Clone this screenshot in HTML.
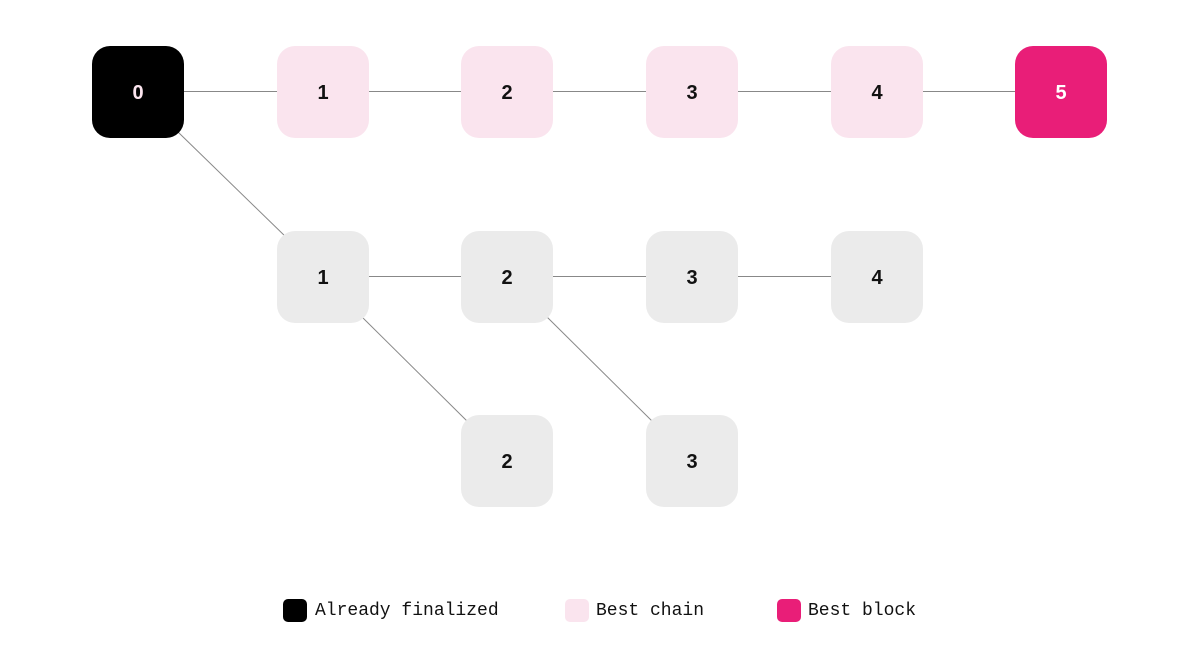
<!DOCTYPE html>
<html><head><style>
body{margin:0;width:1200px;height:646px;background:#fff;overflow:hidden;position:relative;font-family:"Liberation Sans",sans-serif}
svg{position:absolute;left:0;top:0}
.n{position:absolute;width:92px;height:92px;border-radius:18px;display:flex;align-items:center;justify-content:center;font-size:20px;font-weight:600;color:#111;background:#ebebeb;padding-top:2px;box-sizing:border-box}
.k{background:#000;color:#fbe4ee}.p{background:#fae4ee}.m{background:#e91e78;color:#fff}
.lg{position:absolute;top:599px;width:24px;height:23px;border-radius:5px}
.lt{position:absolute;top:599px;font-family:"Liberation Mono",monospace;font-size:18px;color:#111;line-height:24px}
</style></head><body>
<svg width="1200" height="646"><g stroke="#888" stroke-width="1">
<line x1="184" y1="91.5" x2="1016" y2="91.5"/>
<line x1="369" y1="276.5" x2="831" y2="276.5"/>
<line x1="178" y1="132" x2="288" y2="239"/>
<line x1="361" y1="316" x2="469" y2="423"/>
<line x1="546" y1="316" x2="654" y2="423"/>
</g></svg>
<div class="n k" style="left:92px;top:46px">0</div>
<div class="n p" style="left:277px;top:46px">1</div>
<div class="n p" style="left:461px;top:46px">2</div>
<div class="n p" style="left:646px;top:46px">3</div>
<div class="n p" style="left:831px;top:46px">4</div>
<div class="n m" style="left:1015px;top:46px">5</div>
<div class="n" style="left:277px;top:231px">1</div>
<div class="n" style="left:461px;top:231px">2</div>
<div class="n" style="left:646px;top:231px">3</div>
<div class="n" style="left:831px;top:231px">4</div>
<div class="n" style="left:461px;top:415px">2</div>
<div class="n" style="left:646px;top:415px">3</div>
<div class="lg" style="left:283px;background:#000"></div><div class="lt" style="left:315px">Already finalized</div>
<div class="lg" style="left:565px;background:#fae4ee"></div><div class="lt" style="left:596px">Best chain</div>
<div class="lg" style="left:777px;background:#e91e78"></div><div class="lt" style="left:808px">Best block</div>
</body></html>
